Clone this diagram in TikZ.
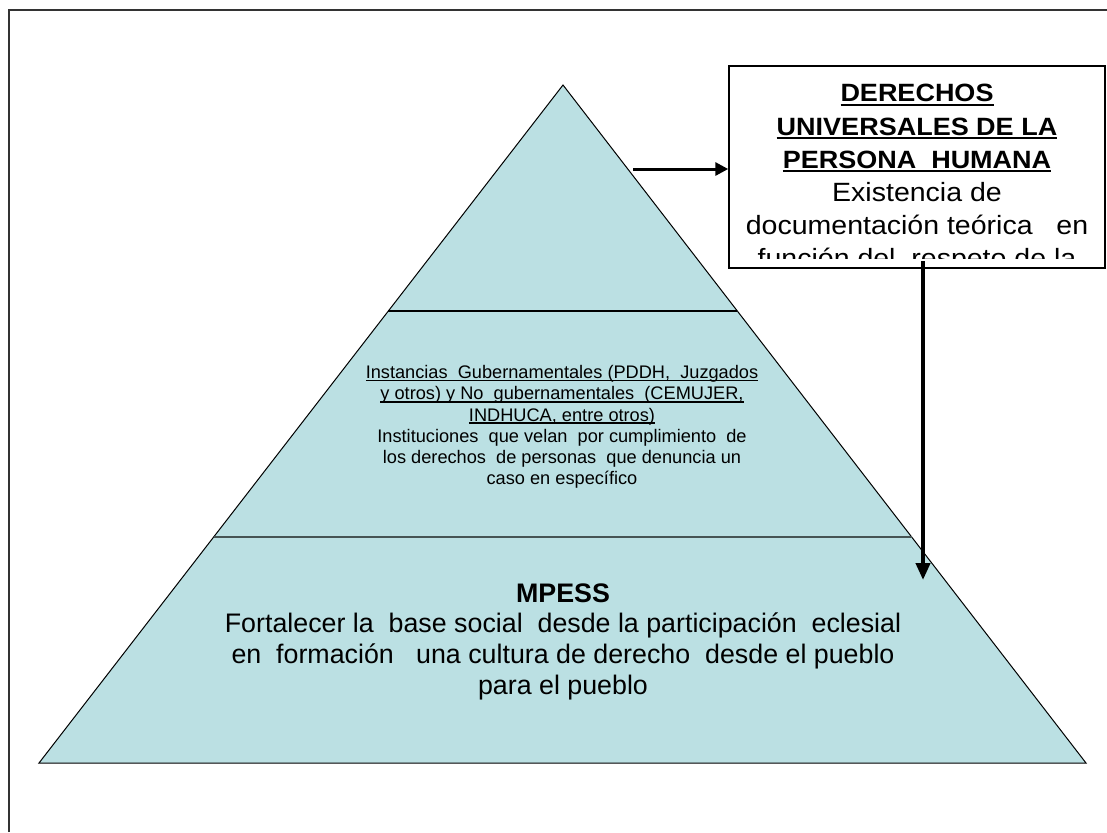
\documentclass[tikz,border=0pt]{standalone}
\usepackage{fontspec}
\setmainfont{Liberation Sans}
\newfontfamily\boxfont{Liberation Sans}[FakeStretch=1.08]
\usetikzlibrary{arrows.meta,calc}
\definecolor{pyrfill}{RGB}{187,224,227}
\definecolor{midline}{RGB}{70,84,84}
\newcommand{\uln}[1]{\setbox0\hbox{#1}\leavevmode\rlap{\rule[-0.15em]{\wd0}{0.07em}}\box0}
\newcommand{\hd}[1]{{\fontsize{12.5}{16.6}\selectfont\bfseries\uln{#1}}}

\begin{document}
\begin{tikzpicture}[x=0.5pt, y=-0.5pt, every node/.style={inner sep=0pt, align=center},
  boxtext/.style={font=\boxfont\fontsize{13.2}{16.6}\selectfont},
  midtext/.style={font=\fontsize{9.1}{10.6}\selectfont},
  basetext/.style={font=\fontsize{13.4}{15.4}\selectfont}]
  \useasboundingbox (0,0) rectangle (1107,832);
  \draw[line width=1pt, black!80] (9,832) |- (1107,10);
  \coordinate (apex) at (563,85);
  \coordinate (bl) at (39,763);
  \coordinate (br) at (1086,763);
  \draw[fill=pyrfill, line width=0.5pt] (apex) -- (br) -- (bl) -- cycle;
  \draw[line width=1pt] ($(apex)!1/3!(bl)$) -- ($(apex)!1/3!(br)$);
  \draw[line width=1pt, midline] ($(apex)!2/3!(bl)$) -- ($(apex)!2/3!(br)$);
  \node[midtext, anchor=north] (mid) at (562,365) {\uln{Instancias~ Gubernamentales (PDDH,~ Juzgados}\\
    \uln{y otros) y No~ gubernamentales~ (CEMUJER,}\\ \uln{INDHUCA, entre otros)}\\
    Instituciones~ que velan~ por cumplimiento~ de\\ los derechos~ de personas~ que denuncia un\\
    caso en específico};
  \node[basetext, anchor=north] (base) at (563,583) {\textbf{MPESS}\\
    Fortalecer la~ base social~ desde la participación~ eclesial\\
    en~ formación~~ una cultura de derecho~ desde el pueblo\\ para el pueblo};
  \node[draw, fill=white, line width=0.75pt, minimum width=188pt, minimum height=101pt] (box) at (917,167) {};
  \begin{scope}
    \clip (box.north west) rectangle ($(box.south east)+(0,-10)$);
    \node[boxtext, anchor=north] (boxtxt) at (917,84) {\hd{DERECHOS}\\
      \hd{UNIVERSALES DE LA}\\ \hd{PERSONA~ HUMANA}\\
      Existencia de\\ documentación teórica~~ en\\ función del~ respeto de la};
  \end{scope}
  \coordinate (from) at (633,169);
  \draw[line width=1.5pt, -{Triangle[length=6.5pt,width=6.5pt]}] (from) -- (box.west |- from);
  \coordinate (down) at (923,261);
  \coordinate (tip) at (923,580);
  \draw[line width=2pt, -{Triangle[length=8.5pt,width=7pt]}] (down) -- (tip);
\end{tikzpicture}
\end{document}
